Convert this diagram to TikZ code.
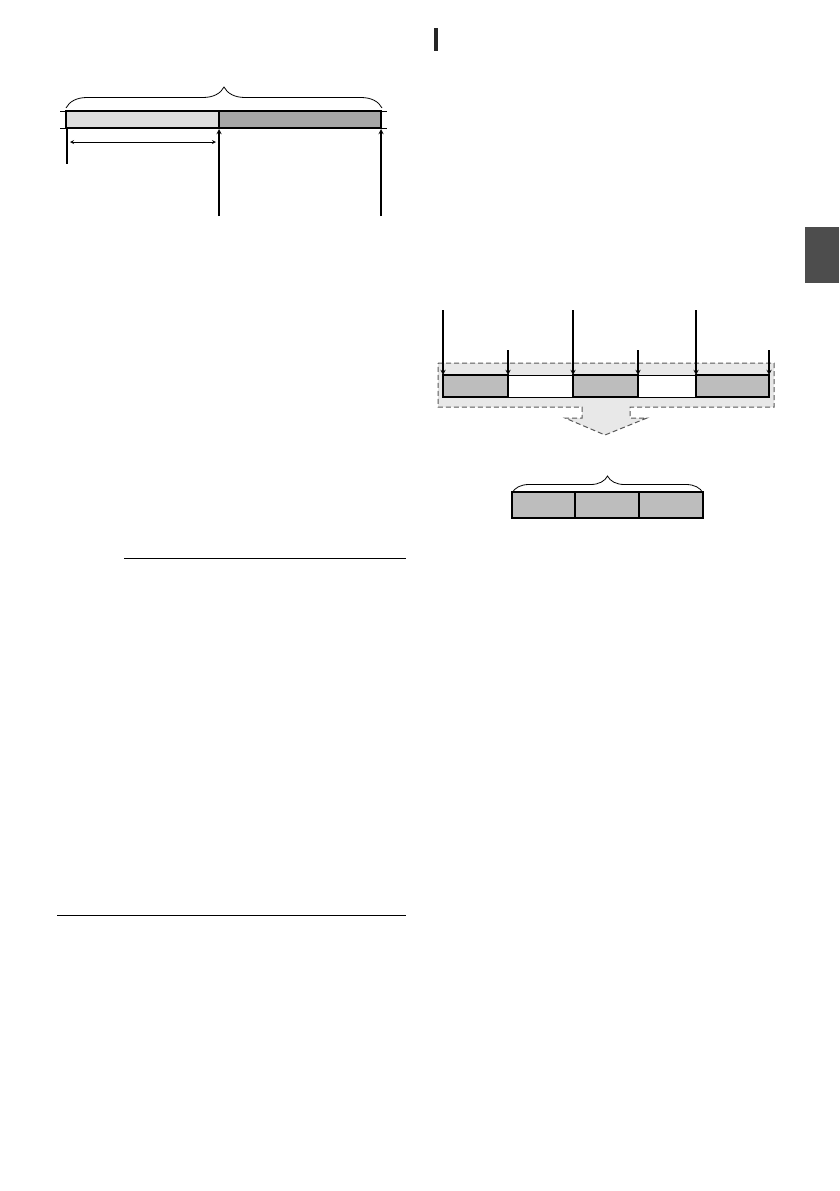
\documentclass[tikz,border=0pt]{standalone}
\usetikzlibrary{decorations.pathreplacing}
\definecolor{lgray}{HTML}{DCDCDC}
\definecolor{dgray}{HTML}{A6A6A6}
\definecolor{bgray}{HTML}{BDBDBD}
\definecolor{pgray}{HTML}{E8E8E8}
\definecolor{tabgray}{HTML}{4D4D4D}
\begin{document}
\begin{tikzpicture}[x=1pt,y=-1pt,line width=0.8pt]
\useasboundingbox (0,0) rectangle (839,1191);
\fill[black!85] (434,28) rectangle (438,51);
\fill[tabgray] (805,227) rectangle (839,283);
% upper bar
\draw[decorate,decoration={brace,amplitude=21pt}] (66,108)--(382,108);
\fill[lgray] (66,111) rectangle (219,128);
\fill[dgray] (219,111) rectangle (381,128);
\draw(60,111)--(387,111);
\draw(60,128)--(387,128);
\draw[line width=2pt] (66,111) rectangle (381,128) (219,111)--(219,128);
\coordinate(kA) at (219,129);
\coordinate(kB) at (381,129);
\draw[line width=1.6pt](67,128)--(67,164);
\draw[stealth-stealth] (70,142)--(216,142);
\draw[-stealth,line width=1.3pt](219,216)--(kA);
\draw[-stealth,line width=1.3pt](381,216)--(kB);
% split recording row
\filldraw[fill=pgray,draw=black!65,dash pattern=on 5pt off 3pt,line width=1pt]
 (438,363)--(774,363)--(774,407)--(630,407)--(630,418)--(647,418)--(605,435)
 --(565,418)--(582,418)--(582,407)--(438,407)--cycle;
\fill[white] (508,375) rectangle (573,397) (638,375) rectangle (696,397);
\draw(443,375)--(769,375);
\draw(443,397)--(769,397);
\draw[fill=bgray,line width=2pt] (443,375) rectangle (508,397);
\draw[fill=bgray,line width=2pt] (573,375) rectangle (638,397);
\draw[fill=bgray,line width=2pt] (696,375) rectangle (769,397);
\foreach \x in {443,573,696}
  \draw[-stealth,line width=1.3pt](\x,310)--(\x,375);
\foreach \x in {508,638,769}
  \draw[-stealth,line width=1.3pt](\x,350)--(\x,375);
% joined clip
\draw[decorate,decoration={brace,amplitude=17pt}] (512,493)--(703,493);
\draw[fill=bgray,line width=2pt] (512,492) rectangle (703,518) (575,492)--(575,518) (639,492)--(639,518);
% rules
\draw(124,558)--(406,558);
\draw(57,915)--(406,915);
\end{tikzpicture}
\end{document}
